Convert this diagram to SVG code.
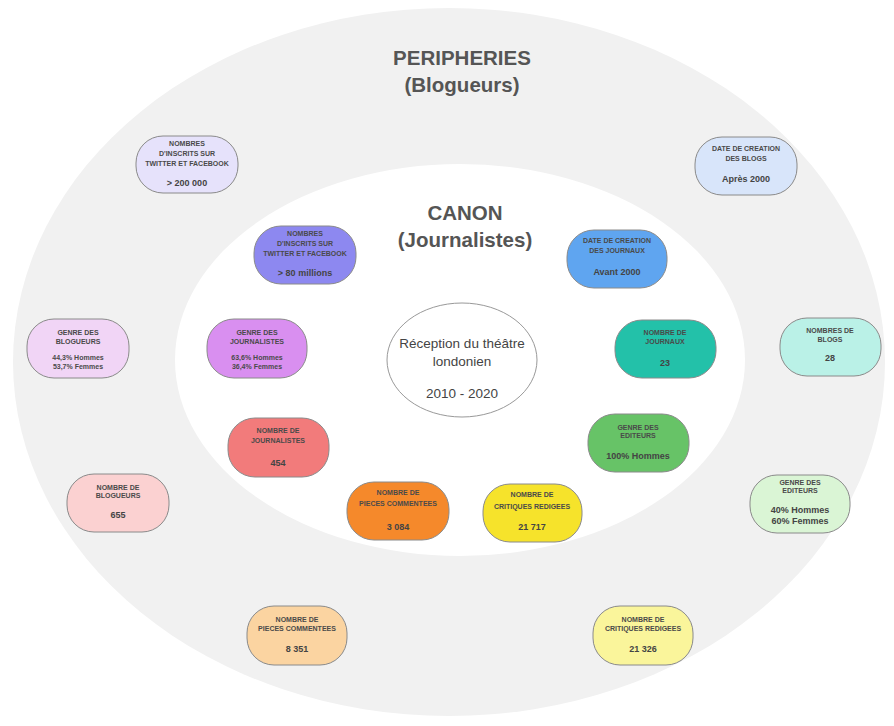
<svg xmlns="http://www.w3.org/2000/svg" width="894" height="726" viewBox="0 0 894 726">
<style>
.lbl{font-family:"Liberation Sans",Arial,sans-serif;font-size:7px;font-weight:bold;fill:#4a4a4a;text-anchor:middle}
.val{font-family:"Liberation Sans",Arial,sans-serif;font-size:9px;font-weight:bold;fill:#444;text-anchor:middle}
.ttl{font-family:"Liberation Sans",Arial,sans-serif;font-size:20.5px;font-weight:bold;fill:#555;text-anchor:middle}
.ctr{font-family:"Liberation Sans",Arial,sans-serif;font-size:13.5px;fill:#444;text-anchor:middle}
.box{stroke:#8a8a8a;stroke-width:1}
</style>
<rect width="894" height="726" fill="#ffffff"/>
<g id="peripheries">
<ellipse cx="449" cy="362" rx="436" ry="354" fill="#f1f1f1"/>
<text class="ttl" x="462" y="65">PERIPHERIES</text>
<text class="ttl" x="462" y="92">(Blogueurs)</text>
</g>
<g id="canon">
<ellipse cx="460" cy="360" rx="285" ry="196" fill="#ffffff"/>
<text class="ttl" x="465" y="220">CANON</text>
<text class="ttl" x="465" y="247">(Journalistes)</text>
</g>
<g id="center">
<ellipse cx="462" cy="360" rx="75" ry="57" fill="#ffffff" stroke="#999" stroke-width="1"/>
<text class="ctr" x="462" y="348">Réception du théâtre</text>
<text class="ctr" x="462" y="366">londonien</text>
<text class="ctr" x="462" y="398">2010 - 2020</text>
</g>
<g id="connectors"></g>
<g id="n1">
<rect class="box" x="136" y="136" width="102" height="57" rx="27" fill="#e6e2fb"/>
<text class="lbl" x="187" y="146">NOMBRES</text>
<text class="lbl" x="187" y="156">D'INSCRITS SUR</text>
<text class="lbl" x="187" y="166">TWITTER ET FACEBOOK</text>
<text class="val" x="187" y="186">&gt; 200 000</text>
</g>
<g id="n2">
<rect class="box" x="695" y="137" width="102" height="58" rx="27" fill="#d8e5fa"/>
<text class="lbl" x="746" y="151">DATE DE CREATION</text>
<text class="lbl" x="746" y="161">DES BLOGS</text>
<text class="val" x="746" y="182">Après 2000</text>
</g>
<g id="n3">
<rect class="box" x="254" y="226" width="102" height="58" rx="27" fill="#8d88f0"/>
<text class="lbl" x="305" y="236">NOMBRES</text>
<text class="lbl" x="305" y="246">D'INSCRITS SUR</text>
<text class="lbl" x="305" y="256">TWITTER ET FACEBOOK</text>
<text class="val" x="305" y="276">&gt; 80 millions</text>
</g>
<g id="n4">
<rect class="box" x="567" y="230" width="100" height="58" rx="27" fill="#5fa5f0"/>
<text class="lbl" x="617" y="243">DATE DE CREATION</text>
<text class="lbl" x="617" y="253">DES JOURNAUX</text>
<text class="val" x="617" y="275">Avant 2000</text>
</g>
<g id="n5">
<rect class="box" x="27" y="319" width="102" height="59" rx="27" fill="#f1d5f6"/>
<text class="lbl" x="78" y="335">GENRE DES</text>
<text class="lbl" x="78" y="344">BLOGUEURS</text>
<text class="lbl" x="78" y="360">44,3% Hommes</text>
<text class="lbl" x="78" y="369">53,7% Femmes</text>
</g>
<g id="n6">
<rect class="box" x="207" y="319" width="100" height="59" rx="27" fill="#d98ff0"/>
<text class="lbl" x="257" y="335">GENRE DES</text>
<text class="lbl" x="257" y="344">JOURNALISTES</text>
<text class="lbl" x="257" y="360">63,6% Hommes</text>
<text class="lbl" x="257" y="369">36,4% Femmes</text>
</g>
<g id="n7">
<rect class="box" x="615" y="320" width="101" height="58" rx="27" fill="#23c1a9"/>
<text class="lbl" x="665" y="335">NOMBRE DE</text>
<text class="lbl" x="665" y="344">JOURNAUX</text>
<text class="val" x="665" y="366">23</text>
</g>
<g id="n8">
<rect class="box" x="780" y="318" width="101" height="58" rx="27" fill="#baf1e7"/>
<text class="lbl" x="830" y="333">NOMBRES DE</text>
<text class="lbl" x="830" y="342">BLOGS</text>
<text class="val" x="830" y="361">28</text>
</g>
<g id="n9">
<rect class="box" x="228" y="418" width="101" height="59" rx="27" fill="#f27b7b"/>
<text class="lbl" x="278" y="433">NOMBRE DE</text>
<text class="lbl" x="278" y="443">JOURNALISTES</text>
<text class="val" x="278" y="466">454</text>
</g>
<g id="n10">
<rect class="box" x="588" y="414" width="101" height="58" rx="27" fill="#67c367"/>
<text class="lbl" x="638" y="430">GENRE DES</text>
<text class="lbl" x="638" y="438">EDITEURS</text>
<text class="val" x="638" y="459">100% Hommes</text>
</g>
<g id="n11">
<rect class="box" x="347" y="482" width="102" height="58" rx="27" fill="#f5892b"/>
<text class="lbl" x="398" y="495">NOMBRE DE</text>
<text class="lbl" x="398" y="506">PIECES COMMENTEES</text>
<text class="val" x="398" y="530">3 084</text>
</g>
<g id="n12">
<rect class="box" x="483" y="484" width="99" height="58" rx="27" fill="#f6e32b"/>
<text class="lbl" x="532" y="497">NOMBRE DE</text>
<text class="lbl" x="532" y="509">CRITIQUES REDIGEES</text>
<text class="val" x="532" y="530">21 717</text>
</g>
<g id="n13">
<rect class="box" x="67" y="474" width="102" height="58" rx="27" fill="#fbd1d1"/>
<text class="lbl" x="118" y="490">NOMBRE DE</text>
<text class="lbl" x="118" y="498">BLOGUEURS</text>
<text class="val" x="118" y="518">655</text>
</g>
<g id="n14">
<rect class="box" x="750" y="475" width="100" height="58" rx="27" fill="#daf5d5"/>
<text class="lbl" x="800" y="485">GENRE DES</text>
<text class="lbl" x="800" y="493">EDITEURS</text>
<text class="val" x="800" y="513">40% Hommes</text>
<text class="val" x="800" y="524">60% Femmes</text>
</g>
<g id="n15">
<rect class="box" x="247" y="606" width="100" height="59" rx="27" fill="#fbd4a1"/>
<text class="lbl" x="297" y="622">NOMBRE DE</text>
<text class="lbl" x="297" y="631">PIECES COMMENTEES</text>
<text class="val" x="297" y="652">8 351</text>
</g>
<g id="n16">
<rect class="box" x="593" y="606" width="100" height="59" rx="27" fill="#faf59b"/>
<text class="lbl" x="643" y="622">NOMBRE DE</text>
<text class="lbl" x="643" y="631">CRITIQUES REDIGEES</text>
<text class="val" x="643" y="652">21 326</text>
</g>
</svg>
